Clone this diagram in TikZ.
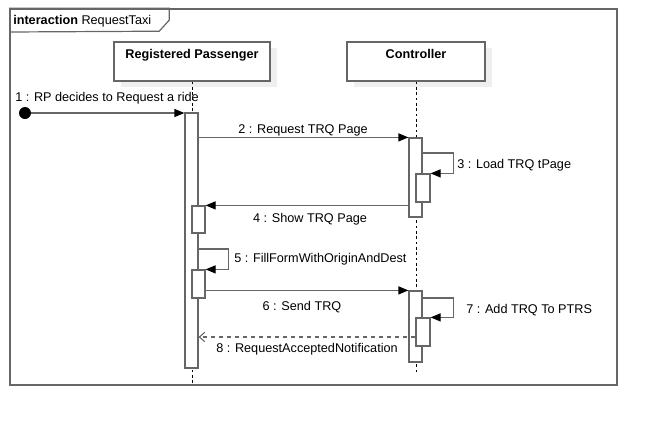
\documentclass[tikz,border=0pt]{standalone}
\usepackage{fontspec}
\setmainfont{Liberation Sans}
\usepackage{xcolor}
\usepackage{tikz}
\usetikzlibrary{arrows.meta,fit,shadows,positioning}

\definecolor{umlgray}{HTML}{666666}
\definecolor{shadowgray}{HTML}{EFEFEF}

\begin{document}
\begin{tikzpicture}[x=0.75pt,y=-0.75pt,
  font=\fontsize{9.5}{11}\selectfont,
  head/.style={draw=umlgray, line width=0.9pt, fill=white, inner sep=0pt,
    drop shadow={shadow xshift=5pt, shadow yshift=-4.5pt, fill=shadowgray, draw=none, opacity=1}},
  act/.style={draw=umlgray, line width=0.9pt, fill=white, inner sep=0pt},
  life/.style={black, dash pattern=on 2pt off 2pt},
  msg/.style={draw=umlgray, line width=0.9pt, -{Triangle[length=7.5pt,width=6pt,color=black]}},
  reply/.style={draw=umlgray, line width=0.8pt, dashed, -{Straight Barb[length=4pt,width=7pt]}},
  lbl/.style={inner sep=0pt}]

\useasboundingbox (0,0) rectangle (658,426);

% frame
\node[draw=umlgray, line width=1.2pt, fit={(10,9) (617,385)}, inner sep=0pt] (frame) {};
\draw[umlgray, line width=0.9pt] (frame.north west) -- ++(160,0) -- ++(0,12) -- ++(-10,11) -- (frame.west |- 0,32);
\node[lbl, anchor=base west] (title) at (13,24) {\textbf{interaction} RequestTaxi};

% lifelines
\node[head, fit={(114,42) (270,81)}] (rp) {};
\node[lbl, anchor=base, font=\fontsize{9.5}{11}\selectfont\bfseries] (rptext) at (rp.north |- 0,58) {Registered Passenger};
\node[head, fit={(347,42) (485,81)}] (ctrl) {};
\node[lbl, anchor=base, font=\fontsize{9.5}{11}\selectfont\bfseries] (ctrltext) at (ctrl.north |- 0,58) {Controller};

\draw[life] (rp.south) -- (rp.south |- 0,383);
\draw[life] (ctrl.south) -- (ctrl.south |- 0,373);

% activations
\node[act, fit={(185,113) (198,368)}] (ra) {};
\node[act, fit={(192,206) (205,233)}] (rb) {};
\node[act, fit={(192,270) (205,298)}] (rc) {};
\node[act, fit={(409,138) (422,217)}] (ca) {};
\node[act, fit={(416,174) (430,202)}] (cb) {};
\node[act, fit={(409,291) (422,362)}] (cc) {};
\node[act, fit={(416,318) (430,346)}] (cd) {};

% messages
\node[circle, fill=black, minimum size=9pt, inner sep=0pt] (start) at (25,113) {};
\draw[msg] (start) -- (start -| ra.west);
\node[lbl, anchor=base west] (m1) at (15,101) {1 : RP decides to Request a ride};

\draw[msg] (ra.east |- ca.north) -- (ca.north west);
\node[lbl, anchor=base] (m2) at (303,133) {2 : Request TRQ Page};

\draw[msg] (ca.east |- 0,153) -- ++(31,0) |- (cb.north east);
\node[lbl, anchor=base west] (m3) at (457,168) {3 : Load TRQ tPage};

\draw[msg] (ca.west |- rb.north) -- (rb.north east);
\node[lbl, anchor=base] (m4) at (310,222) {4 : Show TRQ Page};

\draw[msg] (ra.east |- 0,249) -- ++(30,0) |- (rc.north east);
\node[lbl, anchor=base west] (m5) at (234,262) {5 : FillFormWithOriginAndDest};

\draw[msg] (rc.east |- cc.north) -- (cc.north west);
\node[lbl, anchor=base] (m6) at (302,310) {6 : Send TRQ};

\draw[msg] (cc.east |- 0,298) -- ++(31,0) |- (cd.north east);
\node[lbl, anchor=base west] (m7) at (466,313) {7 : Add TRQ To PTRS};

\draw[reply] (cd.west |- 0,337) -- (ra.east |- 0,337);
\node[lbl, anchor=base] (m8) at (307,352) {8 : RequestAcceptedNotification};

\end{tikzpicture}
\end{document}
